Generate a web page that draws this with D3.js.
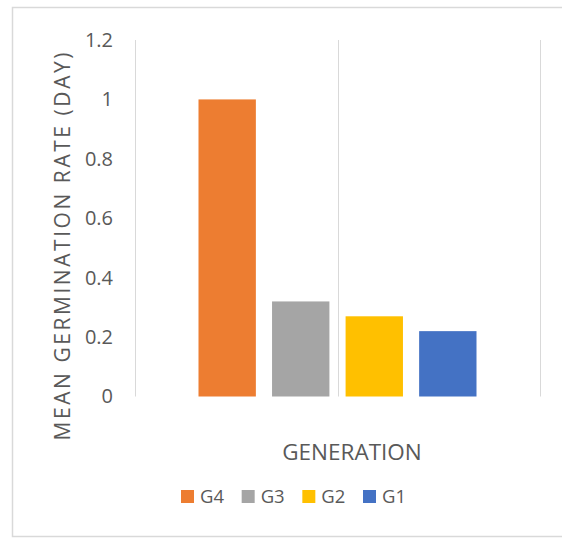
<!DOCTYPE html>
<html>
<head>
<meta charset="utf-8">
<script src="https://cdn.jsdelivr.net/npm/d3@7"></script>
<style>
  html, body { margin: 0; padding: 0; background: #fff; }
  svg { display: block; font-family: "Open Sans", "Liberation Sans", sans-serif; }
</style>
</head>
<body>
<svg id="chart" width="562" height="538"></svg>
<script>
// Mean germination rate per generation
const series = ["G4", "G3", "G2", "G1"];
const values = [1.0, 0.32, 0.27, 0.22];
const colors = ["#ED7D31", "#A5A5A5", "#FFC000", "#4472C4"];
const yTicks = [0, 0.2, 0.4, 0.6, 0.8, 1, 1.2];
const yTitle = "MEAN GERMINATION RATE (DAY)";
const xTitle = "GENERATION";

const svg = d3.select("#chart");
const textColor = "#595959";
const gridColor = "#d9d9d9";
const font = "'Open Sans', 'Liberation Sans', sans-serif";

// outer chart frame
svg.append("rect")
  .attr("x", 12.5).attr("y", 7.5)
  .attr("width", 560).attr("height", 529)
  .attr("fill", "#fff")
  .attr("stroke", "#d9d9d9").attr("stroke-width", 1.5);

const plot = { left: 135, right: 540, top: 40, bottom: 396.5 };

const y = d3.scaleLinear().domain([0, 1.2]).range([plot.bottom, plot.top]);

// vertical gridlines at the category boundaries
const xGrid = d3.scaleLinear().domain([0, 2]).range([plot.left, plot.right]);
svg.append("g")
  .selectAll("line")
  .data([0, 1, 2])
  .join("line")
  .attr("x1", d => Math.round(xGrid(d)) + 0.5)
  .attr("x2", d => Math.round(xGrid(d)) + 0.5)
  .attr("y1", plot.top)
  .attr("y2", plot.bottom)
  .attr("stroke", gridColor)
  .attr("stroke-width", 1);

// bars grouped around the centre of the plot
const groupCenter = xGrid(1);
const groupWidth = 278;
const x = d3.scaleBand()
  .domain(series)
  .range([groupCenter - groupWidth / 2, groupCenter + groupWidth / 2])
  .paddingInner(0.22);

svg.append("g")
  .selectAll("rect")
  .data(series)
  .join("rect")
  .attr("x", d => x(d))
  .attr("y", (d, i) => y(values[i]))
  .attr("width", x.bandwidth())
  .attr("height", (d, i) => y(0) - y(values[i]))
  .attr("fill", (d, i) => colors[i]);

// y axis tick labels
const yAxis = d3.axisLeft(y)
  .tickValues(yTicks)
  .tickFormat(d3.format("~g"))
  .tickSize(0)
  .tickPadding(0);
const yg = svg.append("g")
  .attr("transform", `translate(113,0)`)
  .call(yAxis)
  .attr("font-family", font)
  .attr("font-size", 20);
yg.select(".domain").remove();
yg.selectAll("text")
  .attr("fill", textColor);

// axis titles
svg.append("text")
  .attr("transform", `translate(70,246.5) rotate(-90)`)
  .attr("text-anchor", "middle")
  .attr("fill", textColor)
  .attr("font-size", 21)
  .attr("textLength", 388)
  .attr("lengthAdjust", "spacing")
  .text(yTitle);

svg.append("text")
  .attr("x", 352)
  .attr("y", 460)
  .attr("text-anchor", "middle")
  .attr("fill", textColor)
  .attr("font-size", 22.5)
  .text(xTitle);

// legend
const legendX = d3.scalePoint().domain(series).range([181, 363]);
const lg = svg.append("g")
  .selectAll("g")
  .data(series)
  .join("g")
  .attr("transform", d => `translate(${legendX(d)},490)`);
lg.append("rect")
  .attr("width", 13).attr("height", 13)
  .attr("fill", (d, i) => colors[i]);
lg.append("text")
  .attr("x", 19)
  .attr("y", 13)
  .attr("fill", textColor)
  .attr("font-size", 18.5)
  .text(d => d);
</script>
</body>
</html>
